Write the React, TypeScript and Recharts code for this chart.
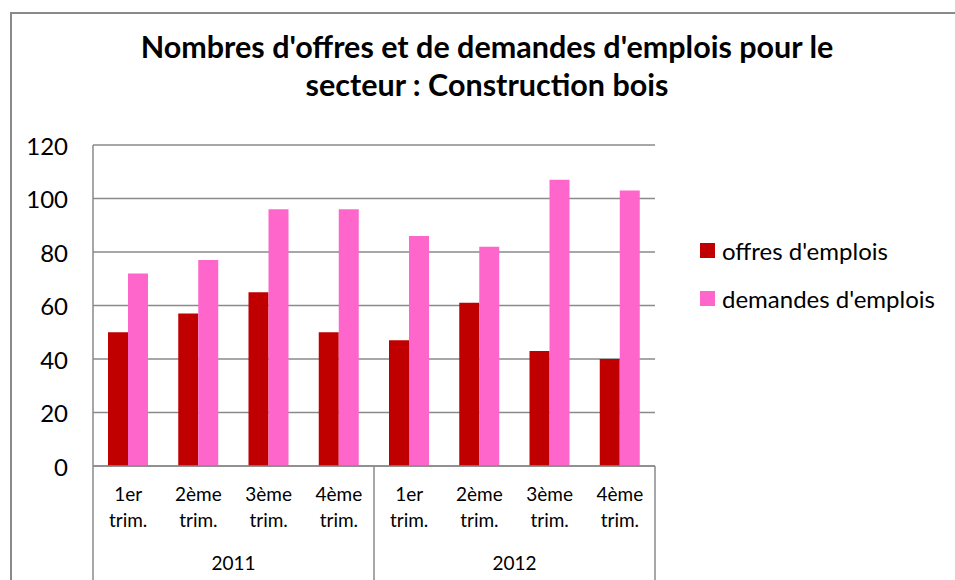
import React from 'react';
import { BarChart, Bar, XAxis, YAxis, CartesianGrid } from 'recharts';

const quarters = ['1er trim.', '2ème trim.', '3ème trim.', '4ème trim.', '1er trim.', '2ème trim.', '3ème trim.', '4ème trim.'];
const years = ['2011', '2011', '2011', '2011', '2012', '2012', '2012', '2012'];
const offres = [50, 57, 65, 50, 47, 61, 43, 40];
const demandes = [72, 77, 96, 96, 86, 82, 107, 103];
const yTicks = [0, 20, 40, 60, 80, 100, 120];

const data = quarters.map((q, i) => ({
  quarter: q,
  year: years[i],
  offres: offres[i],
  demandes: demandes[i],
}));

const FONT = "Lato, 'Open Sans', sans-serif";
const GRAY = '#8a8a8a';
const RED = '#c00000';
const PINK = '#ff66cc';

const QuarterTick = (props: any) => {
  const { x, y, payload, index, visibleTicksCount, width } = props;
  const [a, b] = String(payload.value).split(' ');
  const half = payload.offset ?? width / visibleTicksCount / 2;
  return (
    <g>
      <text x={x} y={y + 27} textAnchor="middle" dominantBaseline="central" fontSize={19} fontFamily={FONT} fill="#000">
        {a}
      </text>
      <text x={x} y={y + 53} textAnchor="middle" dominantBaseline="central" fontSize={19} fontFamily={FONT} fill="#000">
        {b}
      </text>
      {index % 4 === 0 && <line x1={x - half} x2={x - half} y1={y} y2={y + 200} stroke={GRAY} strokeWidth={1.5} />}
      {index === visibleTicksCount - 1 && <line x1={x + half} x2={x + half} y1={y} y2={y + 200} stroke={GRAY} strokeWidth={1.5} />}
    </g>
  );
};

const YearTick = (props: any) => {
  const { x, y, payload } = props;
  return (
    <text x={x} y={y + 26} textAnchor="middle" dominantBaseline="central" fontSize={19} fontFamily={FONT} fill="#000">
      {payload.value}
    </text>
  );
};

const ValueTick = (props: any) => {
  const { x, y, payload } = props;
  return (
    <text x={x - 25} y={y} textAnchor="end" dominantBaseline="central" fontSize={24} fontFamily={FONT} fill="#000">
      {payload.value}
    </text>
  );
};

const legendItems = [
  { label: "offres d'emplois", color: RED },
  { label: "demandes d'emplois", color: PINK },
];

export default function App() {
  return (
    <div style={{ position: 'absolute', left: 0, top: 0, width: 955, height: 580, overflow: 'hidden', background: '#fff' }}>
      <div style={{ position: 'absolute', left: 10, top: 12, width: 1000, height: 700, border: `2px solid ${GRAY}`, boxSizing: 'border-box' }} />
      <div
        style={{
          position: 'absolute',
          left: 100,
          width: 774,
          top: 27,
          textAlign: 'center',
          fontFamily: FONT,
          fontWeight: 'bold',
          fontSize: 30.5,
          lineHeight: '38px',
          color: '#000',
        }}
      >
        Nombres d'offres et de demandes d'emplois pour le<br />secteur : Construction bois
      </div>
      <div style={{ position: 'absolute', left: 0, top: 0 }}>
        <BarChart
          width={955}
          height={580}
          data={data}
          margin={{ top: 145, right: 300, bottom: 4, left: 0 }}
          barSize={20}
          barGap={0}
        >
          <CartesianGrid horizontal vertical={false} stroke={GRAY} strokeWidth={1.5} />
          <XAxis
            dataKey="quarter"
            height={70}
            interval={0}
            tickSize={0}
            tickMargin={0}
            tickLine={false}
            axisLine={{ stroke: GRAY, strokeWidth: 1.5 }}
            tick={<QuarterTick />}
          />
          <XAxis
            xAxisId="year"
            dataKey="year"
            allowDuplicatedCategory={false}
            height={40}
            interval={0}
            tickSize={0}
            tickMargin={0}
            tickLine={false}
            axisLine={false}
            tick={<YearTick />}
          />
          <YAxis
            width={93}
            domain={[0, 120]}
            ticks={yTicks}
            interval={0}
            tickSize={0}
            tickMargin={0}
            tickLine={false}
            axisLine={{ stroke: GRAY, strokeWidth: 1.5 }}
            tick={<ValueTick />}
          />
          <Bar dataKey="offres" name="offres d'emplois" fill={RED} isAnimationActive={false} />
          <Bar dataKey="demandes" name="demandes d'emplois" fill={PINK} isAnimationActive={false} />
        </BarChart>
      </div>
      <div style={{ position: 'absolute', left: 700, top: 226, fontFamily: FONT, fontSize: 24, color: '#000' }}>
        {legendItems.map((it) => (
          <div key={it.label} style={{ display: 'flex', alignItems: 'center', height: 48 }}>
            <span style={{ width: 15, height: 15, background: it.color, display: 'inline-block', marginRight: 7 }} />
            <span>{it.label}</span>
          </div>
        ))}
      </div>
    </div>
  );
}
